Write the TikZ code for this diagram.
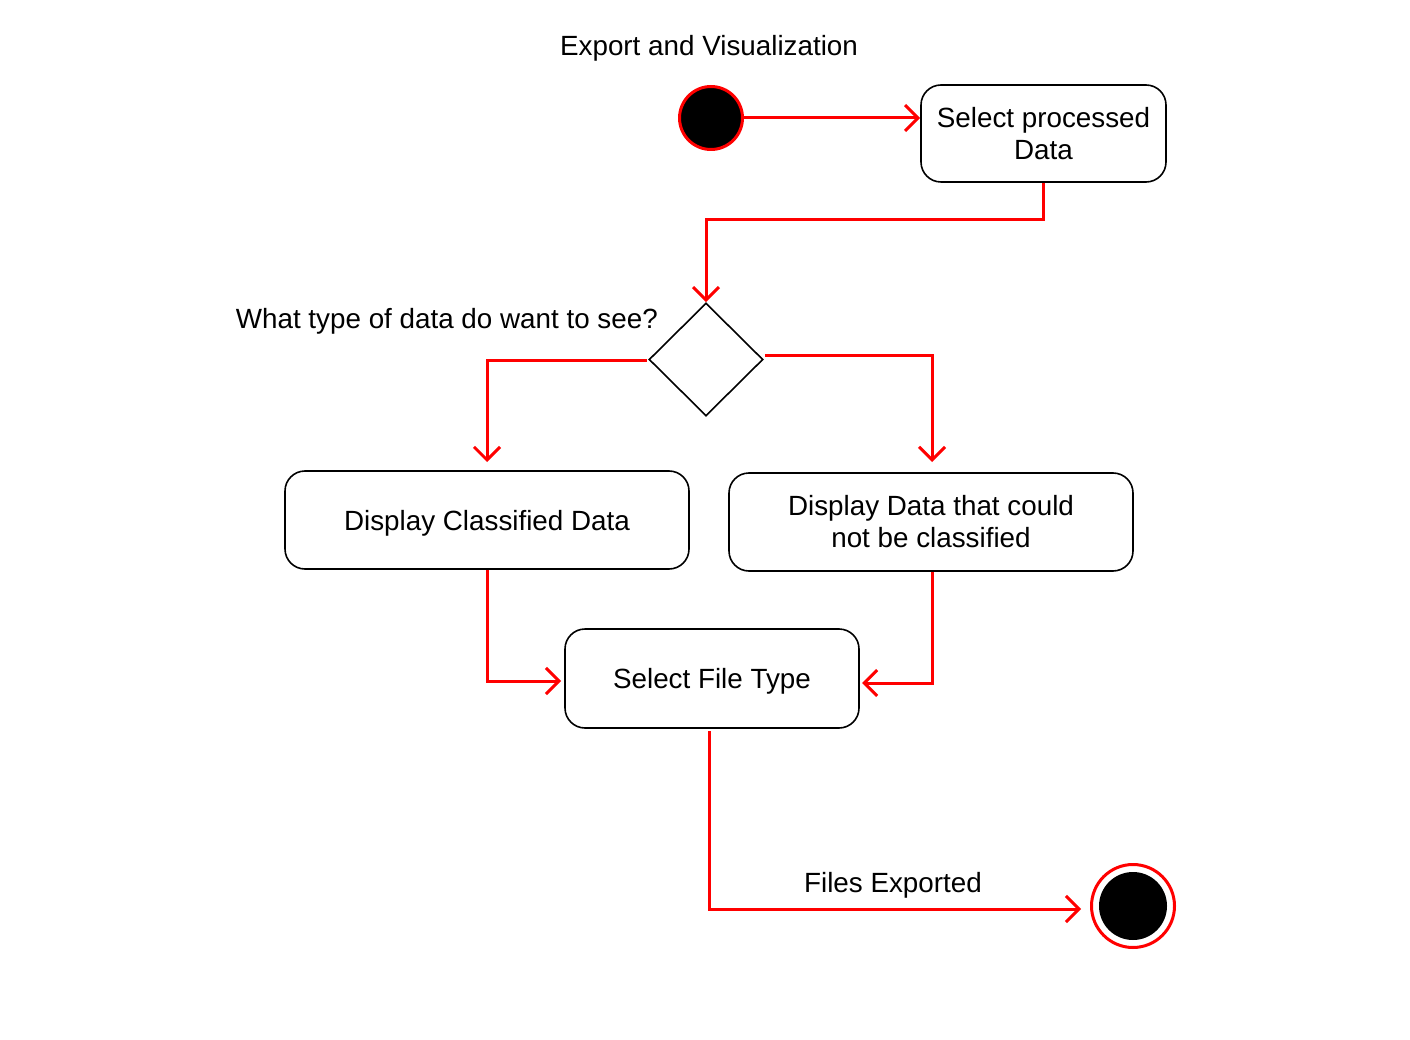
\documentclass[tikz,border=0pt]{standalone}
\usepackage{fontspec}
\setmainfont{Liberation Sans}
\usetikzlibrary{arrows.meta,shapes.geometric}
\begin{document}
\begin{tikzpicture}[x=1pt,y=-1pt,
  every node/.style={font=\fontsize{27.8}{32}\selectfont},
  act/.style={draw=black,line width=1.6pt,rounded corners=20pt,align=center,inner sep=0pt},
  oneline/.style={text depth=0pt},
  flow/.style={draw=red,line width=3pt,-{Straight Barb[length=13pt,width=26pt,line width=3pt]}},
  lbl/.style={inner sep=0pt}]
\useasboundingbox (0,0) rectangle (1410,1040);
% start
\node[circle,draw=red,fill=black,line width=3pt,minimum size=63pt,inner sep=0pt] (start) at (711,118) {};
\node[lbl] (title) at (709,48) {Export and Visualization};
% boxes
\node[act,minimum width=245pt,minimum height=97pt] (sel) at (1043.5,133.5) {Select processed\\Data};
\node[diamond,draw=black,line width=1.6pt,minimum width=114pt,minimum height=113pt,inner sep=0pt] (dec) at (706,359.5) {};
\node[lbl,anchor=east] (q) at (658,321) {What type of data do want to see?};
\node[act,oneline,minimum width=404pt,minimum height=98pt] (cls) at (487,520) {Display Classified Data};
\node[act,minimum width=404pt,minimum height=98pt] (ncls) at (931,522) {Display Data that could\\not be classified};
\node[act,oneline,minimum width=294pt,minimum height=99pt] (ft) at (712,678.5) {Select File Type};
% end
\node[circle,draw=red,line width=3pt,minimum size=83pt,inner sep=0pt] (end) at (1133,906) {};
\node[circle,fill=black,minimum size=68pt,inner sep=0pt] (endin) at (1133,906) {};
\node[lbl] (fe) at (893,885) {Files Exported};
% coordinates
\coordinate (a1) at (1043.5,220);
\coordinate (a2) at (706,220);
\coordinate (b0) at (647,360);
\coordinate (b1) at (487,360);
\coordinate (b2) at (487,462);
\coordinate (c0) at (765,355);
\coordinate (c1) at (932,355);
\coordinate (c2) at (932,462);
\coordinate (d1) at (487,681);
\coordinate (d2) at (561,681);
\coordinate (e1) at (932,683);
\coordinate (e2) at (862,683);
\coordinate (f0) at (709,731);
\coordinate (f1) at (709,909);
\coordinate (f2) at (1081,909);
% edges
\draw[flow] (start.east) -- (sel.west |- start.east);
\draw[flow] (sel.south) -- (a1) -- (a2) -- (dec.north);
\draw[flow] (b0) -- (b1) -- (b2);
\draw[flow] (c0) -- (c1) -- (c2);
\draw[flow] (cls.south -| b1) -- (d1) -- (d2);
\draw[flow] (ncls.south -| c1) -- (e1) -- (e2);
\draw[flow] (f0) -- (f1) -- (f2);
\end{tikzpicture}
\end{document}
